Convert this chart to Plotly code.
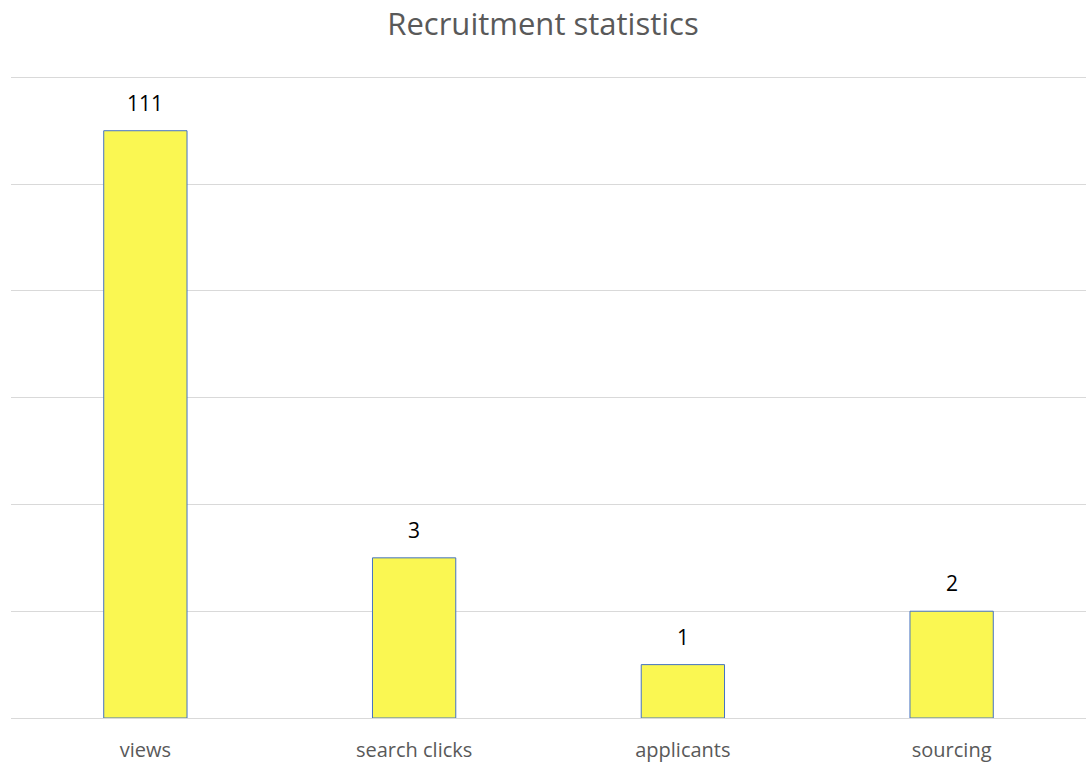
import plotly.graph_objects as go

categories = ["views", "search clicks", "applicants", "sourcing"]
bar_heights = [11, 3, 1, 2]          # heights as drawn on the chart's linear axis
data_labels = ["111", "3", "1", "2"]  # labels as printed above the bars
title = "Recruitment statistics"

FONT = "Open Sans, Liberation Sans, sans-serif"

fig = go.Figure(go.Bar(
    x=categories,
    y=bar_heights,
    width=0.31,
    marker=dict(color="#FAF752", line=dict(color="#4472C4", width=1)),
    hoverinfo="x+y",
))

for c, h, t in zip(categories, bar_heights, data_labels):
    fig.add_annotation(x=c, y=h, text=t, showarrow=False, yanchor="bottom", yshift=12,
                       font=dict(family=FONT, size=21, color="#000000"))

fig.update_layout(
    width=1086, height=762,
    paper_bgcolor="white", plot_bgcolor="white",
    margin=dict(l=11, r=0, t=72, b=44),
    title=dict(text=title, x=0.5, xanchor="center", y=0.968, yanchor="middle",
               font=dict(family=FONT, size=31, color="#595959")),
    showlegend=False,
    bargap=0.69,
)
fig.update_xaxes(
    showgrid=False, showline=False, zeroline=False, ticks="",
    ticklabelstandoff=18,
    tickfont=dict(family=FONT, size=20, color="#595959"),
)
fig.update_yaxes(
    range=[0, 12.1], tickvals=[0, 2, 4, 6, 8, 10, 12], showticklabels=False, showgrid=True,
    gridcolor="#D9D9D9", gridwidth=1, zeroline=True, zerolinecolor="#D9D9D9", zerolinewidth=1,
    showline=False,
)

fig.write_html("out.html")
